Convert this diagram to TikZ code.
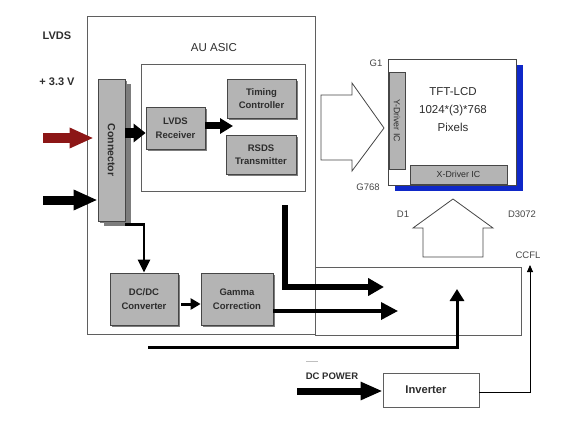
\documentclass[tikz,border=0pt]{standalone}
\usepackage{fontspec}
\usepackage{graphicx}
\setmainfont{Liberation Sans}
\usetikzlibrary{arrows.meta,calc,shadows}
\definecolor{boxgray}{RGB}{180,180,180}
\definecolor{boxline}{RGB}{70,70,70}
\definecolor{shadowgray}{RGB}{125,125,125}
\definecolor{txt}{RGB}{45,45,45}
\definecolor{framegray}{RGB}{95,95,95}
\definecolor{lcdblue}{RGB}{15,40,200}
\definecolor{darkred}{RGB}{140,22,22}
\definecolor{labgray}{RGB}{70,70,70}
\begin{document}
\begin{tikzpicture}[x=1pt,y=-1pt,
  block/.style={draw=boxline, line width=0.8pt, fill=boxgray, text=txt, align=center, inner sep=1pt,
    font=\fontsize{9.5}{13.5}\selectfont\bfseries,
    drop shadow={shadow xshift=2pt, shadow yshift=-2pt, fill=shadowgray, opacity=1}},
  frame/.style={draw=framegray, line width=0.7pt},
  lab/.style={text=labgray, font=\fontsize{9.5}{11}\selectfont, inner sep=0pt},
  bigtxt/.style={text=txt, font=\fontsize{11}{13}\selectfont\bfseries, inner sep=0pt},
  hollow/.style={draw=boxline, line width=0.8pt, fill=white, line join=miter},
  arr/.style={draw=black, line join=miter}
]
\useasboundingbox (0,0) rectangle (579,444);

% outer frames
\node[frame, minimum width=228pt, minimum height=318pt, inner sep=0pt] (asic) at (201,175) {};
\node[frame, minimum width=164pt, minimum height=127pt, inner sep=0pt] (inner) at (223,127.5) {};
\node[frame, minimum width=206pt, minimum height=68pt, inner sep=0pt] (bl) at (418,301) {};

% texts
\node[bigtxt] (lvdst) at (57,36) {LVDS};
\node[bigtxt] (v33) at (57,82) {+ 3.3 V};
\node[text=txt, font=\fontsize{11.5}{13}\selectfont, inner sep=0pt] (asict) at (214,48) {AU ASIC};

% blocks
\node[block, minimum width=27pt, minimum height=142pt, font=\fontsize{10.5}{12}\selectfont\bfseries,
  drop shadow={shadow xshift=6pt, shadow yshift=-5pt, fill=shadowgray, opacity=1}] (conn) at (111.5,150) {\rotatebox{-90}{Connector}};
\node[block, minimum width=59pt, minimum height=42pt] (lvds) at (175.5,128) {LVDS\\Receiver};
\node[block, minimum width=69pt, minimum height=39pt] (tim) at (261.5,98.5) {Timing\\Controller};
\node[block, minimum width=70pt, minimum height=39pt] (rsds) at (261,154.5) {RSDS\\Transmitter};
\node[block, minimum width=68pt, minimum height=52pt] (dcdc) at (144,299) {DC/DC\\Converter};
\node[block, minimum width=72pt, minimum height=52pt] (gam) at (237,299) {Gamma\\Correction};

% TFT panel
\node[draw=boxline, line width=0.8pt, fill=white, minimum width=128pt, minimum height=126pt, inner sep=0pt,
  drop shadow={shadow xshift=7pt, shadow yshift=-6pt, fill=lcdblue, opacity=1}] (lcd) at (452,122) {};
\node[draw=boxline, line width=0.7pt, fill=boxgray, minimum width=16pt, minimum height=97pt, inner sep=0pt,
  text=txt, font=\fontsize{8.8}{10}\selectfont] (ydrv) at (397,120.5) {\rotatebox{-90}{Y-Driver IC}};
\node[draw=boxline, line width=0.7pt, fill=boxgray, minimum width=97pt, minimum height=19pt, inner sep=0pt,
  text=txt, font=\fontsize{8.8}{10}\selectfont] (xdrv) at (458.5,174.5) {X-Driver IC};
\node[text=txt, font=\fontsize{11.5}{18}\selectfont, align=center, inner sep=0pt] (lcdt) at (453,110) {TFT-LCD\\1024*(3)*768\\Pixels};
\node[lab] (g1) at (376,63) {G1};
\node[lab] (g768) at (368,187) {G768};
\node[lab] (d1) at (403,214) {D1};
\node[lab] (d3072) at (522,214) {D3072};
\node[lab] (ccfl) at (528,255) {CCFL};

% hollow arrows
\draw[hollow] (321,95) -- (352,95) -- (352,83) -- (384,128) -- (352,171) -- (352,160) -- (321,160) -- cycle;
\draw[hollow] (423,257) -- (423,228) -- (413,228) -- (453,199) -- (493,228) -- (483,228) -- (483,257) -- cycle;

% inverter
\node[draw=framegray, line width=0.8pt, fill=white, minimum width=96pt, minimum height=34pt, inner sep=0pt,
  text=txt, font=\fontsize{11.2}{13}\selectfont\bfseries] (inv) at (431,390) {Inverter\hspace*{10pt}};
\node[text=txt, font=\fontsize{9.5}{11}\selectfont\bfseries, inner sep=0pt] (dcp) at (332,376) {DC POWER};
\draw[draw=black!25, line width=0.8pt] (306,361) -- (318,361);

% coordinates for free ends
\coordinate (redS) at (43,138);
\coordinate (blkS) at (43,200);
\coordinate (timT) at (233,126);
\coordinate (gamT) at (398,311);
\coordinate (lS) at (285,205);
\coordinate (lC) at (285,287);
\coordinate (lT) at (384,287);
\coordinate (bS) at (148,347);
\coordinate (bC) at (457,347);
\coordinate (bT) at (457,289);
\coordinate (dcS) at (297,391);
\coordinate (ccC) at (530,392);
\coordinate (ccT) at (530,265);

% arrows
\draw[arr, draw=darkred, fill=darkred, line width=9pt, -{Triangle[length=24pt,width=19pt]}] (redS) -- ([xshift=-4pt]redS -| conn.west);
\draw[arr, line width=9pt, -{Triangle[length=24pt,width=19pt]}] (blkS) -- (blkS -| conn.west);
\draw[arr, line width=10pt, -{Triangle[length=12pt,width=18pt]}] ([yshift=-5pt]lvds.west -| conn.east) -- ([yshift=-5pt]lvds.west);
\draw[arr, line width=7pt, -{Triangle[length=13pt,width=15pt]}] (timT -| lvds.east) -- (timT);
\draw[arr, line width=2.8pt, -{Triangle[length=13pt,width=12pt]}] ([yshift=-3pt]conn.south east) -| (dcdc.north);
\draw[arr, line width=3pt, -{Triangle[length=10pt,width=11pt]}] ([xshift=3pt,yshift=-5pt]dcdc.east) -- ([yshift=-5pt]gam.west);
\draw[arr, line width=3.5pt, -{Triangle[length=17pt,width=17pt]}] (gamT -| gam.east) -- (gamT);
\draw[arr, line width=6pt, -{Triangle[length=16pt,width=17pt]}] (lS) -- (lC) -- (lT);
\draw[arr, line width=3pt, -{Triangle[length=12pt,width=14pt]}] (bS) -- (bC) -- (bT);
\draw[arr, line width=7pt, -{Triangle[length=22pt,width=17pt]}] (dcS) -- (dcS -| inv.west);
\draw[arr, line width=0.8pt, -{Triangle[length=7pt,width=6pt]}] ([yshift=-2pt]inv.east) -- (ccC) -- (ccT);
\end{tikzpicture}
\end{document}
